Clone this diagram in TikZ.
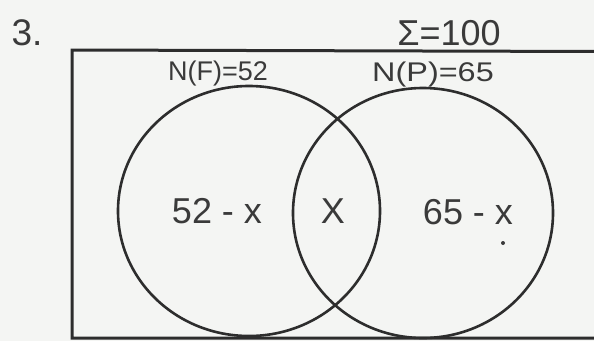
\documentclass[tikz,border=0pt]{standalone}
\usepackage{fontspec}
\setmainfont{Liberation Sans}
\definecolor{ink}{RGB}{45,45,45}
\definecolor{txt}{RGB}{58,58,58}
\definecolor{paper}{RGB}{244,245,243}
\tikzset{
  lbl/.style={inner sep=0pt, anchor=base, text=txt},
  setline/.style={draw=ink, line width=2.6pt},
  framebox/.style={draw=ink, line width=3pt}
}
\begin{document}
\begin{tikzpicture}[x=1pt,y=-1pt]
\useasboundingbox (0,0) rectangle (594,341);
\fill[paper] (0,0) rectangle (594,341);
% universal set frame (continues past right edge)
\draw[framebox] (600,338) -- (72,338) -- (72,50) -- (600,51.5);
% sets
\draw[setline] (249,211) ellipse [x radius=131, y radius=125];
\draw[setline] (423,213) ellipse [x radius=130, y radius=125];
% labels
\node[lbl] (num) at (27,45) {\fontsize{37}{42}\selectfont 3.};
\node[lbl] (sum) at (449,45) {\fontsize{36}{40}\selectfont Σ=100};
\node[lbl] (nf) at (218,80) {\fontsize{27}{30}\selectfont N(F)=52};
\node[lbl, xscale=1.2] (np) at (433,81) {\fontsize{27}{30}\selectfont N(P)=65};
\node[lbl] (lonly) at (217,223) {\fontsize{36}{40}\selectfont 52 - x};
\node[lbl] (both) at (333,223) {\fontsize{36}{40}\selectfont X};
\node[lbl] (ronly) at (468,224) {\fontsize{36}{40}\selectfont 65 - x};
\fill[txt] (503,243) circle (2);
\end{tikzpicture}
\end{document}
